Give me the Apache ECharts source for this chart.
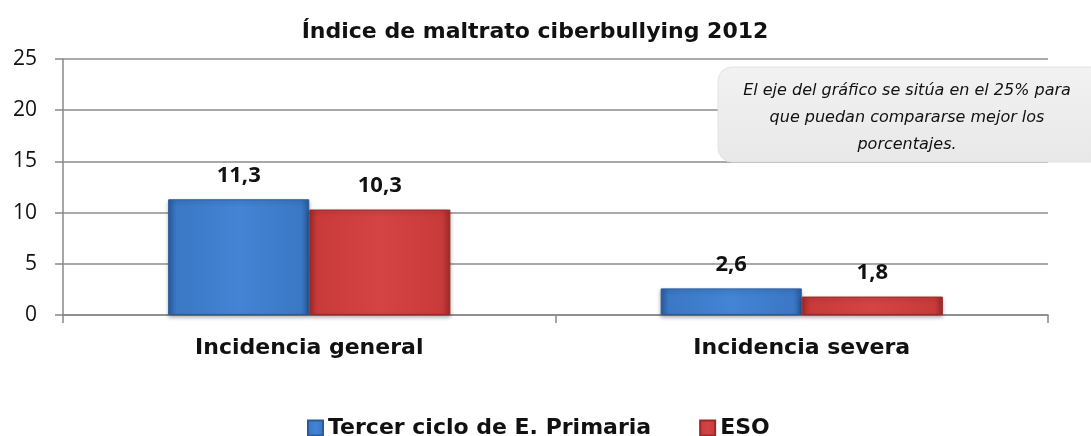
<!DOCTYPE html>
<html>
<head>
<meta charset="utf-8">
<script src="https://cdn.jsdelivr.net/npm/echarts@6/dist/echarts.min.js"></script>
<style>html,body{margin:0;padding:0;background:#fff}#c{width:1091px;height:436px}</style>
</head>
<body>
<div id="c"></div>
<script>
const categories = ['Incidencia general', 'Incidencia severa'];
const seriesNames = ['Tercer ciclo de E. Primaria', 'ESO'];
const primaria = [11.3, 2.6];
const eso = [10.3, 1.8];
const yTicks = [0, 5, 10, 15, 20, 25];
const titleText = 'Índice de maltrato ciberbullying 2012';
const noteLines = ['El eje del gráfico se sitúa en el 25% para', 'que puedan compararse mejor los', 'porcentajes.'];

const FONT = '"DejaVu Sans", sans-serif';
const NUMFONT = '"Open Sans", sans-serif';
function barGrad(c1, c2, c3) {
  return new echarts.graphic.LinearGradient(0, 0, 1, 0, [
    {offset: 0, color: c3}, {offset: 0.06, color: c1}, {offset: 0.5, color: c2}, {offset: 0.94, color: c1}, {offset: 1, color: c3}
  ]);
}
const blueFill = barGrad('#3b78c6', '#4384d4', '#2a5c9e');
const redFill = barGrad('#c93a3a', '#d44444', '#a02a2a');

const chart = echarts.init(document.getElementById('c'));
const labelStyle = {
  show: true, position: 'top', distance: 13,
  fontFamily: NUMFONT, fontWeight: 'bold', fontSize: 22, color: '#111',
  formatter: p => String(p.value).replace('.', ',')
};
chart.setOption({
  animation: false,
  title: {
    text: titleText, left: 530, textAlign: 'center', top: 16,
    textStyle: {fontFamily: FONT, fontWeight: 'bold', fontSize: 22, color: '#111'}
  },
  legend: {
    top: 412, left: 302, itemWidth: 15, itemHeight: 15, itemGap: 48,
    icon: 'rect',
    textStyle: {fontFamily: FONT, fontWeight: 'bold', fontSize: 22, color: '#111'},
    data: seriesNames
  },
  grid: {left: 63, right: 43, top: 59, bottom: 121},
  xAxis: {
    type: 'category', data: categories,
    axisLine: {lineStyle: {color: '#888', width: 1.5}},
    axisTick: {show: true, length: 8, lineStyle: {color: '#888', width: 1.5}},
    axisLabel: {margin: 22, fontFamily: FONT, fontWeight: 'bold', fontSize: 22, color: '#111'}
  },
  yAxis: {
    type: 'value', min: yTicks[0], max: yTicks[yTicks.length - 1], interval: 5,
    axisLine: {show: true, lineStyle: {color: '#888', width: 1.5}},
    axisTick: {show: true, length: 8, lineStyle: {color: '#888', width: 1.5}},
    splitLine: {lineStyle: {color: '#8c8c8c', width: 1.5}},
    axisLabel: {margin: 26, fontFamily: NUMFONT, fontSize: 21, color: '#111'}
  },
  series: [
    {
      name: seriesNames[0], type: 'bar', data: primaria, barGap: '0%', barCategoryGap: '42.7%',
      itemStyle: {color: blueFill, borderColor: '#2b5a98', borderWidth: 1, shadowColor: 'rgba(0,0,0,0.3)', shadowBlur: 4, shadowOffsetY: 2},
      label: labelStyle
    },
    {
      name: seriesNames[1], type: 'bar', data: eso, barGap: '0%', barCategoryGap: '42.7%',
      itemStyle: {color: redFill, borderColor: '#9a2828', borderWidth: 1, shadowColor: 'rgba(0,0,0,0.3)', shadowBlur: 4, shadowOffsetY: 2},
      label: labelStyle
    }
  ],
  graphic: [
    {
      type: 'rect', x: 718, y: 67, z: 100,
      shape: {width: 390, height: 95, r: 14},
      style: {
        fill: new echarts.graphic.LinearGradient(0, 0, 0, 1, [{offset: 0, color: '#f2f2f2'}, {offset: 1, color: '#e8e8e8'}]),
        stroke: '#e2e2e2', lineWidth: 1
      }
    },
    {
      type: 'text', x: 907, y: 77, z: 101,
      style: {
        text: noteLines.join('\n'), textAlign: 'center',
        fontFamily: FONT, fontStyle: 'italic', fontSize: 16, lineHeight: 27, fill: '#111'
      }
    }
  ]
});
</script>
</body>
</html>
